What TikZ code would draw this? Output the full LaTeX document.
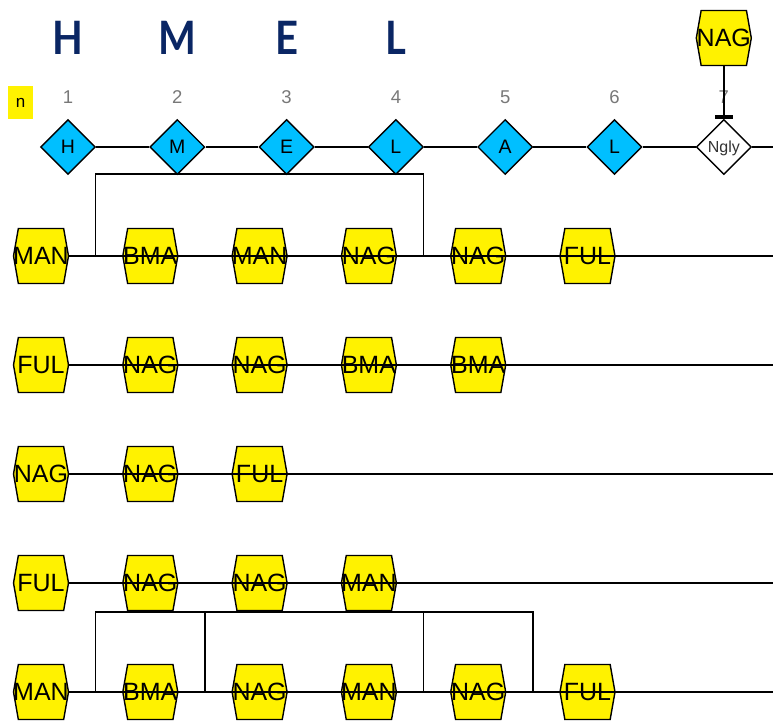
\documentclass[tikz,border=0pt]{standalone}
\usepackage{fontspec}
\setmainfont{Liberation Sans}
\newfontfamily\headfont[FakeStretch=0.87]{Lato}
\usetikzlibrary{calc,shapes.geometric,shapes.symbols,arrows.meta}

\definecolor{resblue}{RGB}{0,191,255}
\definecolor{headblue}{RGB}{10,38,100}
\definecolor{numgrey}{RGB}{120,120,120}

\tikzset{
	link/.style={line width=1.6pt},
	res/.style={diamond,draw,line width=1.4pt,fill=resblue,minimum width=55,minimum height=55,inner sep=0pt,
		font=\fontsize{19.5}{19.5}\selectfont},
	sugar/.style={signal,signal to=east and west,signal pointer angle=160,draw,line width=1.4pt,fill=yellow,
		minimum width=55,minimum height=55,inner sep=0pt},
	sugarname/.style={inner sep=0pt,font=\fontsize{25}{25}\selectfont},
	num/.style={text=numgrey,inner sep=0pt,font=\fontsize{18.5}{18.5}\selectfont},
	head/.style={text=headblue,inner sep=0pt,font=\headfont\bfseries\fontsize{46}{46}\selectfont}
}

\begin{document}
\begin{tikzpicture}[x=1pt,y=-1pt]
	\def\dx{109.3}	%spacing between neighbouring residues
	\def\xr{68}		%x of first residue on the chain
	\def\xs{41}		%x of first sugar in a row
	\useasboundingbox (0,0) rectangle (778,721);
	
	%one-letter heading above the first four residues
	\foreach \c [count=\i] in {H,M,E,L}
		\node[head] (h\i) at ({\xr+(\i-1)*\dx},38) {\c};
	
	\node[fill=yellow,minimum width=25,minimum height=33,inner sep=0pt,font=\fontsize{17}{17}\selectfont] (nbox) at (20.5,102.5) {n};
	
	%residue chain with its position numbers
	\foreach \c [count=\i] in {H,M,E,L,A,L}{
		\node[num] (num\i) at ({\xr+(\i-1)*\dx},97) {\i};
		\node[res] (a\i) at ({\xr+(\i-1)*\dx},147) {\c};
	}
	\node[num] (num7) at ({\xr+6*\dx},97) {7};
	\node[res,fill=white,text=black!80,font=\fontsize{16}{16}\selectfont,text depth=0pt] (a7) at ({\xr+6*\dx},147) {Ngly};
	\coordinate (chainend) at (773,147);
	\foreach \i [evaluate=\i as \j using int(\i+1)] in {1,...,6}
		\draw[link] (a\i.east) -- (a\j.west);
	\draw[link] (a7.east) -- (chainend);
	
	%glycan attached at position 7
	\node[sugar] (topnag) at ({\xr+6*\dx},38) {};
	\node[sugarname] (topnag-t) at (topnag) {NAG};
	\draw[link,-{Bar[width=18pt,line width=3.5pt]}] (topnag.south) -- (a7.north);
	
	%sugar rows: hexagons, then the row line over them, then the names
	\foreach \r/\y/\list in {1/256/{MAN,BMA,MAN,NAG,NAG,FUL},2/365/{FUL,NAG,NAG,BMA,BMA},3/474/{NAG,NAG,FUL},4/583/{FUL,NAG,NAG,MAN},5/692/{MAN,BMA,NAG,MAN,NAG,FUL}}{
		\foreach \s [count=\i] in \list
			\node[sugar] (r\r-\i) at ({\xs+(\i-1)*\dx},\y) {};
		\coordinate (r\r-end) at (773,\y);
		\draw[link] (r\r-1.east) -- (r\r-end);
		\foreach \s [count=\i] in \list
			\node[sugarname] (r\r-\i-t) at (r\r-\i) {\s};
	}
	
	%brackets joining the gaps between sugars
	\coordinate (b1) at ($(r1-1)!.5!(r1-2)$);
	\coordinate (b4) at ($(r1-4)!.5!(r1-5)$);
	\draw[link] (b1) -- ++(0,-82) -| (b4);
	\coordinate (d1) at ($(r5-1)!.5!(r5-2)$);
	\coordinate (d2) at ($(r5-2)!.5!(r5-3)$);
	\coordinate (d4) at ($(r5-4)!.5!(r5-5)$);
	\coordinate (d5) at ($(r5-5)!.5!(r5-6)$);
	\draw[link] (d1) -- ++(0,-80) -| (d4);
	\draw[link] (d2) -- ++(0,-80) -| (d5);
\end{tikzpicture}
\end{document}
